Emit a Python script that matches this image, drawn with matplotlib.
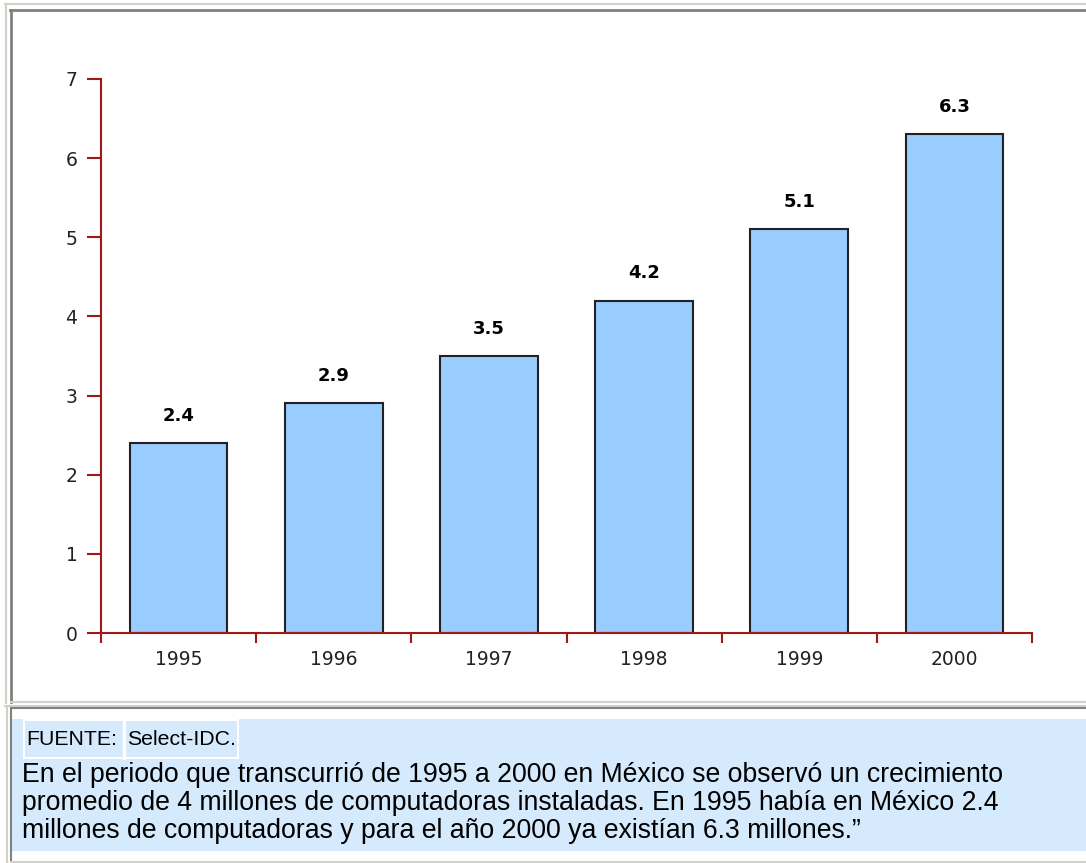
import matplotlib
matplotlib.use("Agg")
import matplotlib.pyplot as plt
from matplotlib.patches import Rectangle
from matplotlib.lines import Line2D
import numpy as np

years = ["1995", "1996", "1997", "1998", "1999", "2000"]
computers = [2.4, 2.9, 3.5, 4.2, 5.1, 6.3]
y_ticks = [0, 1, 2, 3, 4, 5, 6, 7]
source_label = "FUENTE:"
source_name = "Select-IDC."
note = ("En el periodo que transcurrió de 1995 a 2000 en México se observó un crecimiento\n"
        "promedio de 4 millones de computadoras instaladas. En 1995 había en México 2.4\n"
        "millones de computadoras y para el año 2000 ya existían 6.3 millones.”")

W, H = 1086, 863
AXIS_RED = "#A01818"
LIGHT = "#D4D0C8"
DARK = "#808080"
PANEL_BLUE = "#D6EAFD"


def fx(px):
    return px / W


def fy(py):
    return 1 - py / H


def hline(fig, x0, x1, y, color, lw=1.5):
    fig.add_artist(Line2D([fx(x0), fx(x1)], [fy(y), fy(y)], color=color, lw=lw,
                          transform=fig.transFigure))


def vline(fig, x, y0, y1, color, lw=1.5):
    fig.add_artist(Line2D([fx(x), fx(x)], [fy(y0), fy(y1)], color=color, lw=lw,
                          transform=fig.transFigure))


def box(fig, x0, y0, x1, y1, color):
    fig.add_artist(Rectangle((fx(x0), fy(y1)), fx(x1) - fx(x0), fy(y0) - fy(y1),
                             facecolor=color, edgecolor="none", transform=fig.transFigure,
                             zorder=0))


fig = plt.figure(figsize=(W / 100, H / 100), dpi=100)

# page frames
hline(fig, 5, W, 4.5, LIGHT)
vline(fig, 5.5, 4, 703, LIGHT)
hline(fig, 10, W, 10.5, DARK, lw=2)
vline(fig, 11, 10, 702, DARK, lw=2)
hline(fig, 11, W, 701.5, LIGHT)
hline(fig, 5, W, 706, LIGHT)
vline(fig, 6.5, 706, H, LIGHT)
hline(fig, 11, W, 708, DARK, lw=1.5)
vline(fig, 11, 708, 860, DARK, lw=1.5)
hline(fig, 11, W, 861.5, LIGHT)

# note panel
box(fig, 12, 719, W, 851, PANEL_BLUE)
hline(fig, 24, 238, 719.5, "white", lw=1.5)
vline(fig, 24, 719, 758, "white", lw=1.5)
vline(fig, 124, 719, 758, "white", lw=2.5)
vline(fig, 237.5, 719, 758, "white", lw=1.5)
hline(fig, 24, 238, 757.5, "white", lw=1.5)
fig.text(fx(26), fy(739), source_label, fontsize=15.3, family="Liberation Sans",
         va="center", ha="left", color="black")
fig.text(fx(127), fy(739), source_name, fontsize=15.3, family="Liberation Sans",
         va="center", ha="left", color="black")
fig.text(fx(22), fy(803), note, fontsize=19.2, family="Liberation Sans",
         va="center", ha="left", color="black", linespacing=1.12)

# chart
ax = fig.add_axes([fx(101), fy(633), fx(1032) - fx(101), fy(79) - fy(633)])
x = np.arange(len(years))
ax.bar(x, computers, width=0.63, color="#99CCFF", edgecolor="#222222", linewidth=1.5,
       zorder=2)
for xi, v in zip(x, computers):
    ax.text(xi, v + 0.23, f"{v}", ha="center", va="bottom", fontsize=13,
            fontweight="bold", color="black")

ax.set_xlim(-0.5, len(years) - 0.5)
ax.set_ylim(0, 7)
ax.set_yticks(y_ticks)
ax.set_xticks(np.arange(-0.5, len(years)), minor=False)
ax.set_xticklabels([""] * (len(years) + 1))
ax.set_xticks(x, minor=True)
ax.set_xticklabels(years, minor=True)
ax.tick_params(axis="x", which="major", direction="out", length=7, width=1.5,
               color=AXIS_RED)
ax.tick_params(axis="x", which="minor", length=0, pad=12, labelsize=13.5,
               labelcolor="#222222")
ax.tick_params(axis="y", direction="out", length=10, width=1.5, color=AXIS_RED,
               labelsize=13.5, labelcolor="#222222", pad=7)
for side in ("top", "right"):
    ax.spines[side].set_visible(False)
for side in ("left", "bottom"):
    ax.spines[side].set_color(AXIS_RED)
    ax.spines[side].set_linewidth(1.5)

fig.savefig("out.png", dpi=100)
